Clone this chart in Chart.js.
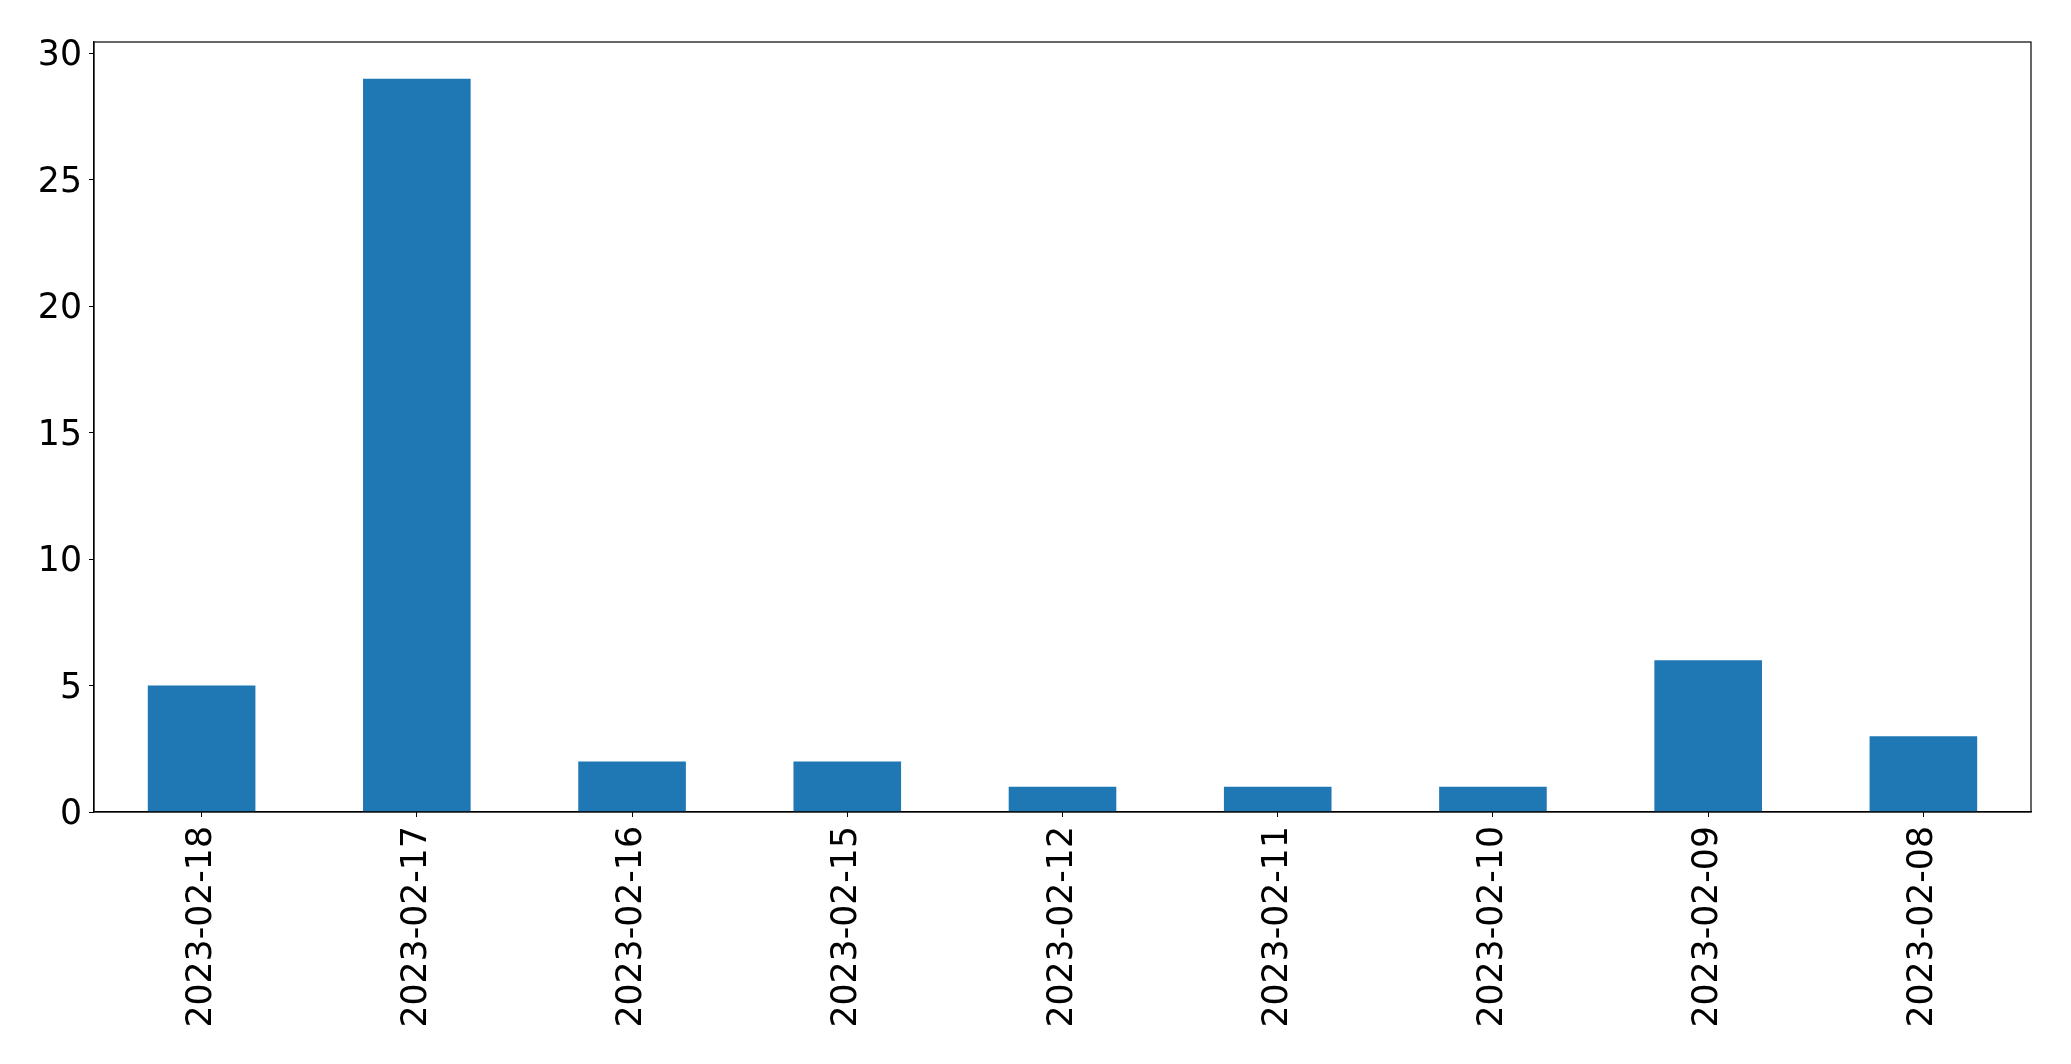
<!DOCTYPE html>
<html>
<head>
<meta charset="utf-8">
<script src="https://cdn.jsdelivr.net/npm/chart.js@4"></script>
<style>
	html, body { margin: 0; padding: 0; background: #fff; }
	#wrap { width: 2071px; height: 1064px; }
</style>
</head>
<body>
<div id="wrap"><canvas id="barChart" width="2071" height="1064"></canvas></div>
<script>
// данные
const dates = ['2023-02-18', '2023-02-17', '2023-02-16', '2023-02-15', '2023-02-12', '2023-02-11', '2023-02-10', '2023-02-09', '2023-02-08']
const counts = [5, 29, 2, 2, 1, 1, 1, 6, 3]
const yTicks = [0, 5, 10, 15, 20, 25, 30]
const yMax = 30.45

// рамка вокруг области графика
const frame = {
	id: 'frame',
	afterDraw(chart) {
		const a = chart.chartArea
		const c = chart.ctx
		c.save()
		c.strokeStyle = '#000'
		c.lineWidth = 1.2
		c.strokeRect(a.left, a.top, a.right - a.left, a.bottom - a.top)
		c.restore()
	},
}

const font = { family: 'DejaVu Sans', size: 34.7 }

new Chart(document.getElementById('barChart'), {
	type: 'bar',
	data: {
		labels: dates,
		datasets: [
			{
				data: counts,
				backgroundColor: '#1f77b4',
				barPercentage: 0.5,
				categoryPercentage: 1,
			},
		],
	},
	options: {
		responsive: false,
		animation: false,
		layout: { padding: { left: 0, top: 42, right: 40, bottom: 0 } },
		plugins: { legend: { display: false }, tooltip: { enabled: false } },
		scales: {
			x: {
				offset: true,
				grid: { display: true, drawOnChartArea: false, tickLength: 5, tickColor: '#000', offset: false },
				border: { color: '#000', width: 1.2 },
				ticks: { color: '#000', font: font, minRotation: 90, maxRotation: 90, padding: 9, autoSkip: false },
				afterFit(axis) { axis.height = 252 },
			},
			y: {
				min: 0,
				max: yMax,
				grid: { display: true, drawOnChartArea: false, tickLength: 5, tickColor: '#000' },
				border: { color: '#000', width: 1.2 },
				ticks: { color: '#000', font: font, padding: 7, labelOffset: 3 },
				afterBuildTicks(axis) { axis.ticks = yTicks.map(v => ({ value: v })) },
				afterFit(axis) { axis.width = 94 },
			},
		},
	},
	plugins: [frame],
})
</script>
</body>
</html>
